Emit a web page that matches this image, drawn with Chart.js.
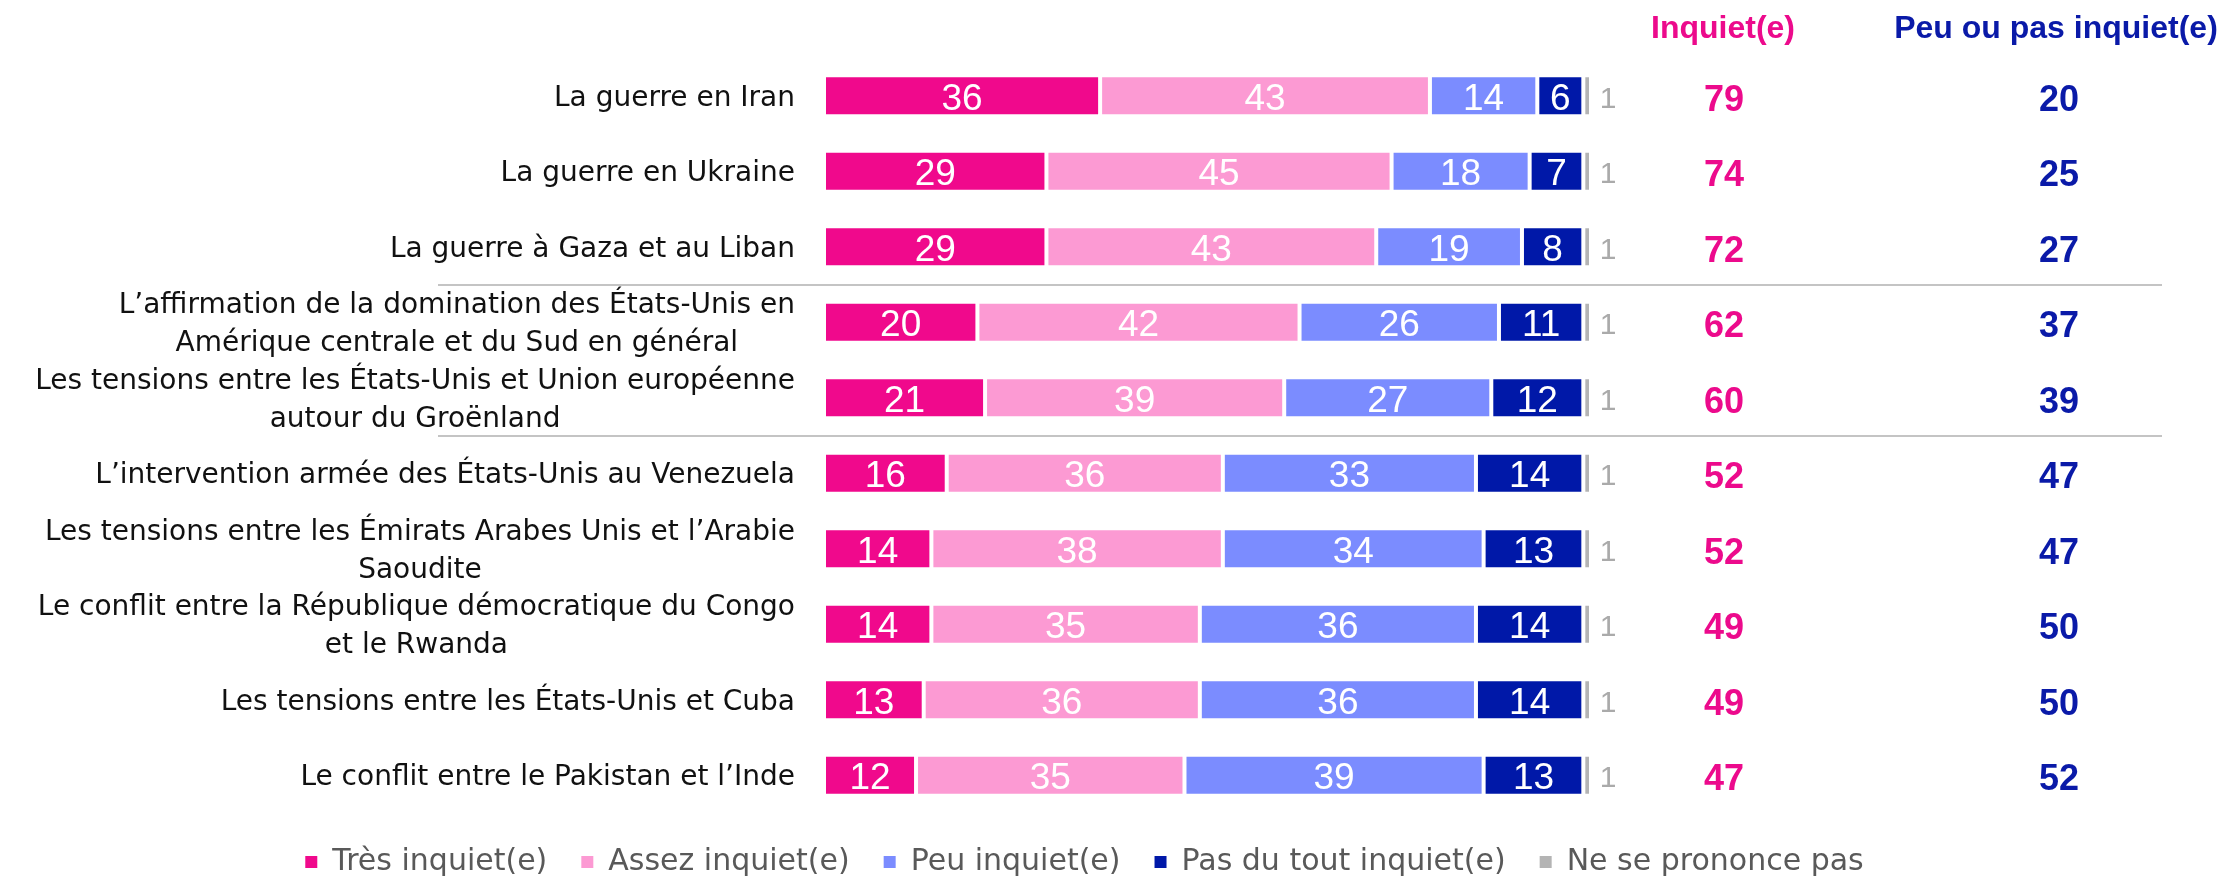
<!DOCTYPE html>
<html lang="fr">
<head>
<meta charset="utf-8">
<title>Inquiétude face aux conflits</title>
<script src="https://cdn.jsdelivr.net/npm/chart.js@4.4.1/dist/chart.umd.min.js"></script>
<style>
  html, body { margin: 0; padding: 0; background: #ffffff; }
  #wrap { width: 2225px; height: 878px; position: relative; }
</style>
</head>
<body>
<div id="wrap"><canvas id="barChart"></canvas></div>
<script>
let categories = [
  ["La guerre en Iran"],
  ["La guerre en Ukraine"],
  ["La guerre à Gaza et au Liban"],
  ["L’affirmation de la domination des États-Unis en", "Amérique centrale et du Sud en général"],
  ["Les tensions entre les États-Unis et Union européenne", "autour du Groënland"],
  ["L’intervention armée des États-Unis au Venezuela"],
  ["Les tensions entre les Émirats Arabes Unis et l’Arabie", "Saoudite"],
  ["Le conflit entre la République démocratique du Congo", "et le Rwanda"],
  ["Les tensions entre les États-Unis et Cuba"],
  ["Le conflit entre le Pakistan et l’Inde"],
];
let tresInquiet = [36, 29, 29, 20, 21, 16, 14, 14, 13, 12];
let assezInquiet = [43, 45, 43, 42, 39, 36, 38, 35, 36, 35];
let peuInquiet = [14, 18, 19, 26, 27, 33, 34, 36, 36, 39];
let pasDuTout = [6, 7, 8, 11, 12, 14, 13, 14, 14, 13];
let neSePrononcePas = [1, 1, 1, 1, 1, 1, 1, 1, 1, 1];
let totalInquiet = [79, 74, 72, 62, 60, 52, 52, 49, 49, 47];
let totalPasInquiet = [20, 25, 27, 37, 39, 47, 47, 50, 50, 52];
let seriesNames = ["Très inquiet(e)", "Assez inquiet(e)", "Peu inquiet(e)", "Pas du tout inquiet(e)", "Ne se prononce pas"];
let columnTitles = ["Inquiet(e)", "Peu ou pas inquiet(e)"];
let groupBreaks = [2.5, 4.5];

let colors = ["#F0098C", "#FC9AD3", "#7B8CFF", "#0018A8", "#B4B4B4"];
let pinkText = "#EC0A8C";
let blueText = "#0A1AA8";
let textFont = "'DejaVu Sans', sans-serif";
let numFont = "'Liberation Sans', Arial, sans-serif";
let columnX = [1724, 2059];

// labels, separators, values and column totals
const extrasPlugin = {
  id: "extras",
  afterDatasetsDraw(chart) {
    const ctx = chart.ctx;
    const yScale = chart.scales.y;
    const area = chart.chartArea;
    ctx.save();

    ctx.strokeStyle = "#c4c4c4";
    ctx.lineWidth = 2;
    groupBreaks.forEach((b) => {
      const py = Math.round(yScale.getPixelForValue(b));
      ctx.beginPath();
      ctx.moveTo(438, py);
      ctx.lineTo(2162, py);
      ctx.stroke();
    });

    // category labels: block right aligned, lines centred
    ctx.font = "28px " + textFont;
    ctx.fillStyle = "#111111";
    ctx.textAlign = "center";
    ctx.textBaseline = "alphabetic";
    const labelRight = area.left - 29;
    const lineH = 38;
    categories.forEach((lines, i) => {
      const cy = yScale.getPixelForValue(i);
      let maxW = 0;
      lines.forEach((l) => { maxW = Math.max(maxW, ctx.measureText(l).width); });
      const cx = labelRight - maxW / 2;
      lines.forEach((l, k) => {
        ctx.fillText(l, cx, cy + 10 + (k - (lines.length - 1) / 2) * lineH);
      });
    });

    // values inside bars
    for (let d = 0; d < 4; d++) {
      const meta = chart.getDatasetMeta(d);
      const values = chart.data.datasets[d].data;
      ctx.font = "37px " + numFont;
      ctx.fillStyle = "#ffffff";
      meta.data.forEach((bar, i) => {
        ctx.fillText(values[i], (bar.x + bar.base) / 2, bar.y + 14);
      });
    }
    const nspMeta = chart.getDatasetMeta(4);
    ctx.font = "30px " + numFont;
    ctx.fillStyle = "#aaaaaa";
    nspMeta.data.forEach((bar, i) => {
      ctx.fillText(neSePrononcePas[i], bar.x + 17, bar.y + 12);
    });

    // totals columns
    ctx.font = "bold 32px " + numFont;
    ctx.fillStyle = pinkText;
    ctx.fillText(columnTitles[0], 1723, 38);
    ctx.fillStyle = blueText;
    ctx.fillText(columnTitles[1], 2056, 38);

    ctx.font = "bold 36px " + numFont;
    categories.forEach((c, i) => {
      const cy = yScale.getPixelForValue(i);
      ctx.fillStyle = pinkText;
      ctx.fillText(totalInquiet[i], columnX[0], cy + 15);
      ctx.fillStyle = blueText;
      ctx.fillText(totalPasInquiet[i], columnX[1], cy + 15);
    });
    ctx.restore();
  },
};

function makeDataset(label, data, color) {
  return {
    label: label,
    data: data,
    backgroundColor: color,
    borderColor: "#ffffff",
    borderWidth: 2,
    borderSkipped: false,
    inflateAmount: 0,
    barThickness: 41,
  };
}

new Chart(document.getElementById("barChart"), {
  type: "bar",
  data: {
    labels: categories,
    datasets: [
      makeDataset(seriesNames[0], tresInquiet, colors[0]),
      makeDataset(seriesNames[1], assezInquiet, colors[1]),
      makeDataset(seriesNames[2], peuInquiet, colors[2]),
      makeDataset(seriesNames[3], pasDuTout, colors[3]),
      makeDataset(seriesNames[4], neSePrononcePas, colors[4]),
    ],
  },
  options: {
    indexAxis: "y",
    responsive: true,
    maintainAspectRatio: false,
    animation: false,
    events: [],
    layout: { padding: { top: 58, right: 56, bottom: 0, left: 0 } },
    scales: {
      x: { stacked: true, min: 0, max: 100, display: false },
      y: {
        stacked: true,
        grid: { display: false },
        border: { display: false },
        ticks: { display: false },
        afterFit: (scale) => { scale.width = 824; },
      },
      yR: {
        type: "category",
        position: "right",
        grid: { display: false },
        border: { display: false },
        ticks: { display: false },
        afterFit: (scale) => { scale.width = 578; },
      },
    },
    plugins: {
      tooltip: { enabled: false },
      legend: {
        position: "bottom",
        maxHeight: 65,
        labels: {
          font: { family: textFont, size: 30 },
          color: "#595959",
          boxWidth: 12,
          boxHeight: 12,
          padding: 34,
          generateLabels(chart) {
            const items = Chart.defaults.plugins.legend.labels.generateLabels(chart);
            items.forEach((it) => { it.lineWidth = 0; it.strokeStyle = "rgba(0,0,0,0)"; });
            return items;
          },
        },
      },
    },
  },
  plugins: [extrasPlugin],
});
</script>
</body>
</html>
